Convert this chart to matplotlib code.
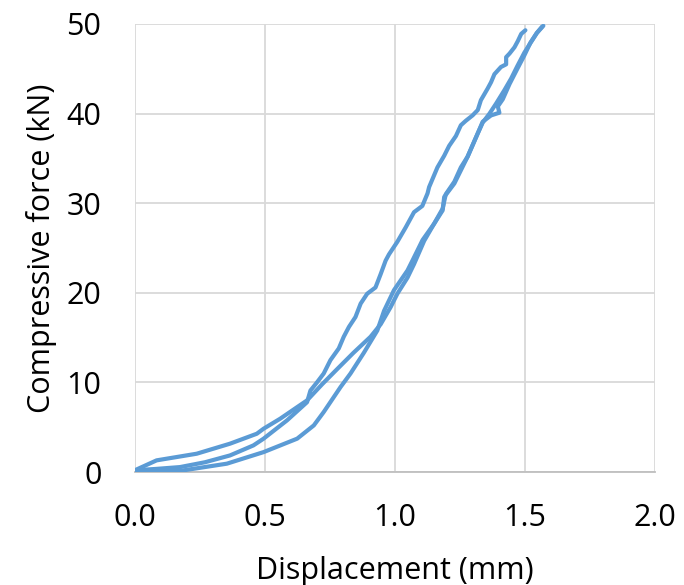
import matplotlib
matplotlib.use("Agg")
import matplotlib.pyplot as plt

# curve A: upper-left branch at high force
xA = [0.0, 0.08, 0.174, 0.27, 0.366, 0.456, 0.495, 0.585, 0.662, 0.675, 0.70, 0.726, 0.752, 0.784,
      0.803, 0.823, 0.848, 0.868, 0.893, 0.925, 0.945, 0.964, 0.977, 1.009, 1.041, 1.073, 1.105,
      1.125, 1.131, 1.163, 1.189, 1.208, 1.234, 1.253, 1.272, 1.298, 1.318, 1.330, 1.356, 1.369,
      1.382, 1.407, 1.427, 1.427, 1.440, 1.459, 1.472, 1.485, 1.501]
yA = [0.2, 0.35, 0.56, 1.1, 1.86, 2.98, 3.73, 5.77, 7.8, 9.1, 10.0, 11.0, 12.5, 13.8,
      15.1, 16.2, 17.3, 18.8, 19.9, 20.6, 22.1, 23.6, 24.3, 25.7, 27.3, 29.0, 29.7,
      31.1, 31.8, 34.0, 35.3, 36.4, 37.5, 38.7, 39.2, 39.8, 40.4, 41.5, 42.8, 43.5,
      44.4, 45.2, 45.5, 46.3, 46.7, 47.4, 48.1, 48.9, 49.3]

# curve B: top branch at low force
xB = [0.0, 0.084, 0.238, 0.366, 0.469, 0.495, 0.559, 0.624, 0.662, 0.72, 0.778, 0.84, 0.906,
      0.945, 0.983, 1.009, 1.048, 1.073, 1.112, 1.150, 1.183, 1.195, 1.228, 1.253, 1.279, 1.318,
      1.337, 1.363, 1.388, 1.42, 1.446, 1.47, 1.497, 1.523, 1.545, 1.565]
yB = [0.2, 1.31, 2.05, 3.17, 4.28, 4.84, 5.96, 7.25, 8.0, 9.8, 11.5, 13.3, 15.1,
      16.5, 18.4, 19.9, 21.7, 23.2, 25.8, 27.7, 29.4, 31.0, 32.4, 34.0, 35.2, 37.8,
      39.0, 40.0, 41.1, 42.6, 43.9, 45.3, 46.8, 48.0, 49.0, 49.7]

# curve C: bottom branch at low force, with the kink near 40 kN
xC = [0.0, 0.186, 0.354, 0.495, 0.624, 0.688, 0.726, 0.791, 0.829, 0.88, 0.932, 0.958, 0.996,
      1.048, 1.067, 1.106, 1.150, 1.183, 1.189, 1.228, 1.279, 1.318, 1.337, 1.369, 1.401, 1.395,
      1.414, 1.44, 1.47, 1.497, 1.52, 1.545, 1.57]
yC = [0.1, 0.19, 0.94, 2.23, 3.73, 5.21, 6.7, 9.5, 11.0, 13.3, 15.8, 18.0, 20.3,
      22.5, 23.6, 25.9, 27.7, 29.2, 30.7, 32.2, 35.2, 37.8, 39.1, 39.8, 40.1, 40.8,
      41.6, 43.3, 45.0, 46.5, 47.9, 49.0, 49.8]

xticks = [0.0, 0.5, 1.0, 1.5, 2.0]
yticks = [0, 10, 20, 30, 40, 50]

plt.rcParams['font.family'] = ['Open Sans', 'DejaVu Sans']

fig = plt.figure(figsize=(6.84, 5.85), dpi=100)
ax = fig.add_axes([0.197, 0.193, 0.761, 0.766])

blue = "#5B9BD5"
for x, y in [(xA, yA), (xB, yB), (xC, yC)]:
    ax.plot(x, y, color=blue, lw=3, solid_joinstyle="round", solid_capstyle="round", zorder=3)

ax.set_xlim(0, 2.0)
ax.set_ylim(0, 50)
ax.set_xticks(xticks)
ax.set_xticklabels([f"{t:.1f}" for t in xticks])
ax.set_yticks(yticks)
ax.grid(True, color="#D9D9D9", lw=1.3, zorder=0)
for s in ["top", "right", "left"]:
    ax.spines[s].set_visible(False)
ax.spines["bottom"].set_color("#BFBFBF")
ax.spines["bottom"].set_linewidth(1.3)
ax.tick_params(length=0, labelsize=22, pad=22)
ax.tick_params(axis="y", pad=24)
ax.set_xlabel("Displacement (mm)", fontsize=22, labelpad=17)
ax.set_ylabel("Compressive force (kN)", fontsize=22, labelpad=7)

fig.savefig("out.png", dpi=100)
